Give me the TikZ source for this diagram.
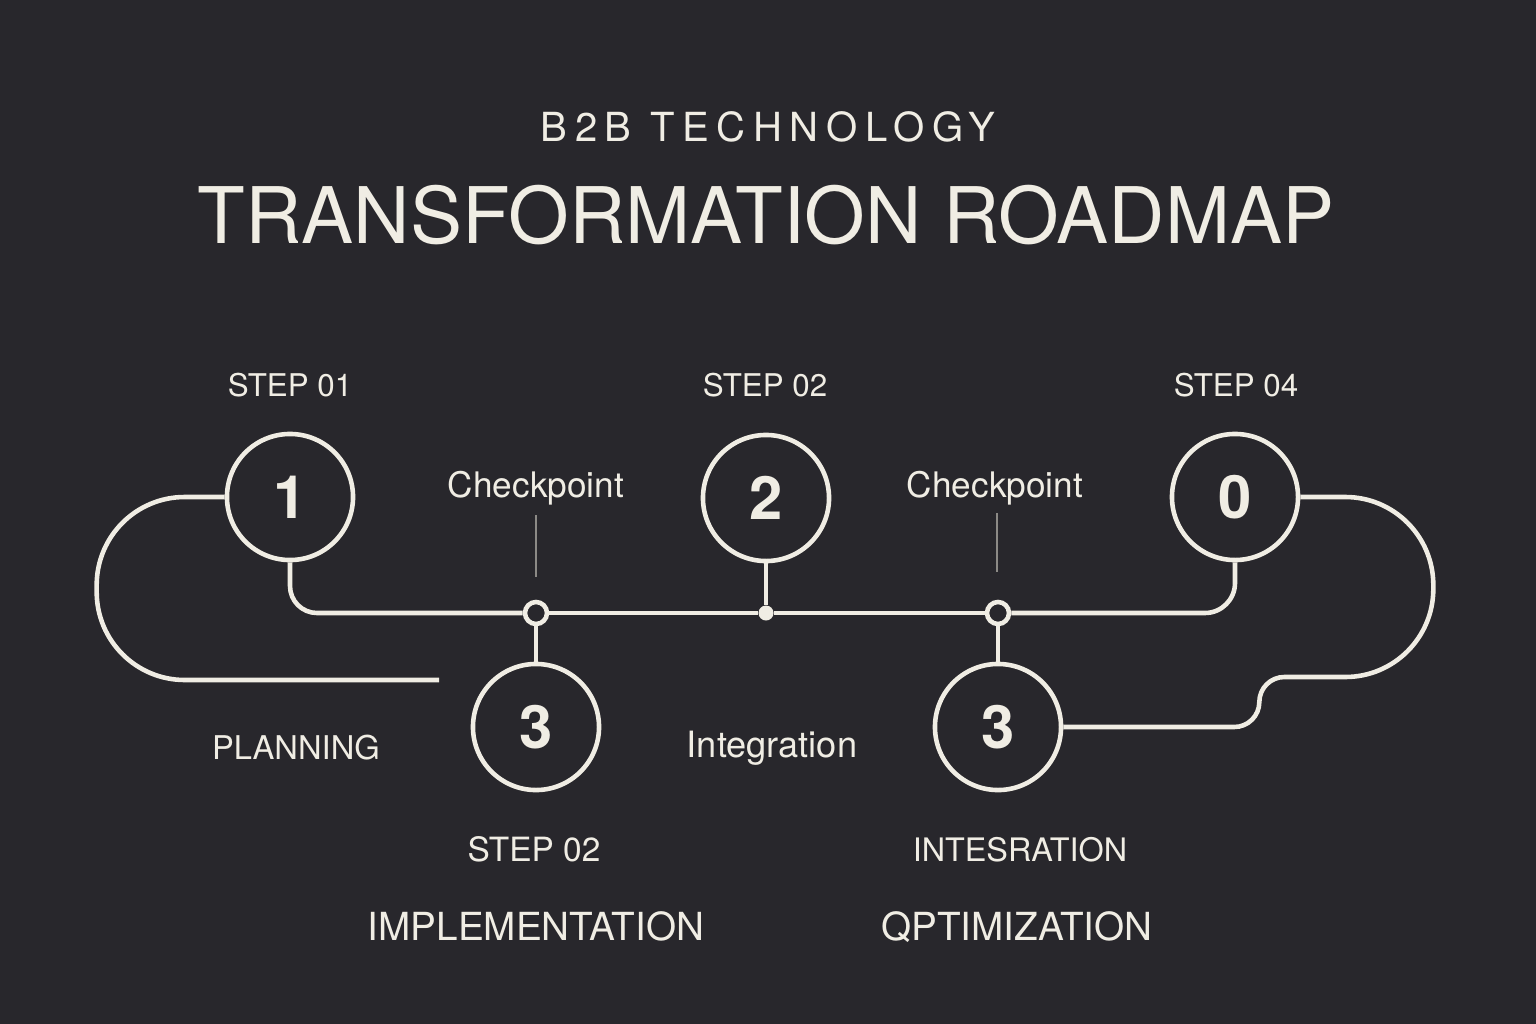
\documentclass[tikz,border=0pt]{standalone}
\usepackage{fontspec}
\setmainfont{TeX Gyre Heros}
\definecolor{bg}{HTML}{28272C}
\definecolor{ink}{HTML}{F0EDE4}
\definecolor{faintink}{HTML}{8C8A86}
\newcommand\fTitle{\fontsize{22.2}{26}\selectfont}
\newcommand\fSub{\fontsize{11.4}{14}\selectfont\addfontfeature{LetterSpace=19}}
\newcommand\fStep{\fontsize{8.9}{11}\selectfont}
\newcommand\fLabel{\fontsize{10}{12}\selectfont}
\newcommand\fPhase{\fontsize{11}{13}\selectfont}
\tikzset{
    road/.style={draw=ink, line width=1.3pt},
    faint/.style={draw=faintink, line width=0.35pt},
    milestone/.style={circle, draw=ink, line width=1.3pt, fill=bg, minimum size=1.26cm,
      inner sep=0pt, text=ink, font=\bfseries\fontsize{17}{17}\selectfont},
    chk/.style={circle, draw=ink, line width=1.3pt, fill=bg, minimum size=0.22cm, inner sep=0pt},
    lbl/.style={text=ink, inner sep=0pt, anchor=base},
  }
\begin{document}
\begin{tikzpicture}[x=0.01cm, y=-0.01cm]
				  %fond et cadre
				  \fill[bg] (0,0) rectangle (1536,1024);
				  \useasboundingbox (0,0) rectangle (1536,1024);
				  %titres
				  \node[lbl, font=\fSub] (sub) at (768,141) {B2B TECHNOLOGY};
				  \node[lbl, font=\fTitle] (title) at (766,243) {TRANSFORMATION ROADMAP};
				  %etapes
				  \node[milestone] (s1) at (290,497) {1};
				  \node[milestone] (s2) at (766,498) {2};
				  \node[milestone] (s4) at (1235,497) {0};
				  \node[milestone] (s3a) at (536,727) {3};
				  \node[milestone] (s3b) at (998,727) {3};
				  \node[chk] (cpA) at (536,613) {};
				  \node[chk] (cpB) at (998,613) {};
				  \node[circle, fill=ink, minimum size=0.15cm, inner sep=0pt] (d2) at (766,613) {};
				  %ligne principale
				  \draw[road, rounded corners=0.27cm] (s1.south) -- (s1.south |- cpA) -- (cpA.west);
				  \draw[road] (cpA.east) -- (d2) -- (cpB.west);
				  \draw[road, rounded corners=0.3cm] (cpB.east) -- (s4.south |- cpB) -- (s4.south);
				  \draw[road] (s2.south) -- (d2);
				  \draw[road] (cpA.south) -- (s3a.north);
				  \draw[road] (cpB.south) -- (s3b.north);
				  %boucles
				  \coordinate (loopL) at (439,680);
				  \draw[road, rounded corners=0.88cm] (s1.west) -- ++(-128,0) -- ++(0,183) -- (loopL);
				  \draw[road, rounded corners=0.88cm] (s4.east) -- ++(133,0) -- ++(0,180)
				        [rounded corners=0.25cm] -- ++(-174,0) -- ++(0,50) -- (s3b.east);
				  %traits fins
				  \coordinate (tickA1) at (536,515);
				  \coordinate (tickA2) at (536,577);
				  \coordinate (tickB1) at (997,513);
				  \coordinate (tickB2) at (997,572);
				  \draw[faint] (tickA1) -- (tickA2);
				  \draw[faint] (tickB1) -- (tickB2);
				  %textes
				  \node[lbl, font=\fStep] (t1) at (290,396) {STEP 01};
				  \node[lbl, font=\fStep] (t2) at (765,396) {STEP 02};
				  \node[lbl, font=\fStep] (t4) at (1236,396) {STEP 04};
				  \node[lbl, font=\fLabel] (cA) at (536,497) {Checkpoint};
				  \node[lbl, font=\fLabel] (cB) at (995,497) {Checkpoint};
				  \node[lbl, font=\fontsize{9.3}{11}\selectfont] (plan) at (296,759) {PLANNING};
				  \node[lbl, font=\fontsize{10.3}{12}\selectfont] (integ) at (772,757) {Integration};
				  \node[lbl, font=\fontsize{9.5}{11}\selectfont] (t2b) at (534,861) {STEP 02};
				  \node[lbl, font=\fontsize{9.2}{11}\selectfont] (intes) at (1020,861) {INTESRATION};
				  \node[lbl, font=\fPhase] (impl) at (536,940) {IMPLEMENTATION};
				  \node[lbl, font=\fPhase] (optim) at (1017,940) {QPTIMIZATION};
				  \end{tikzpicture}
\end{document}
